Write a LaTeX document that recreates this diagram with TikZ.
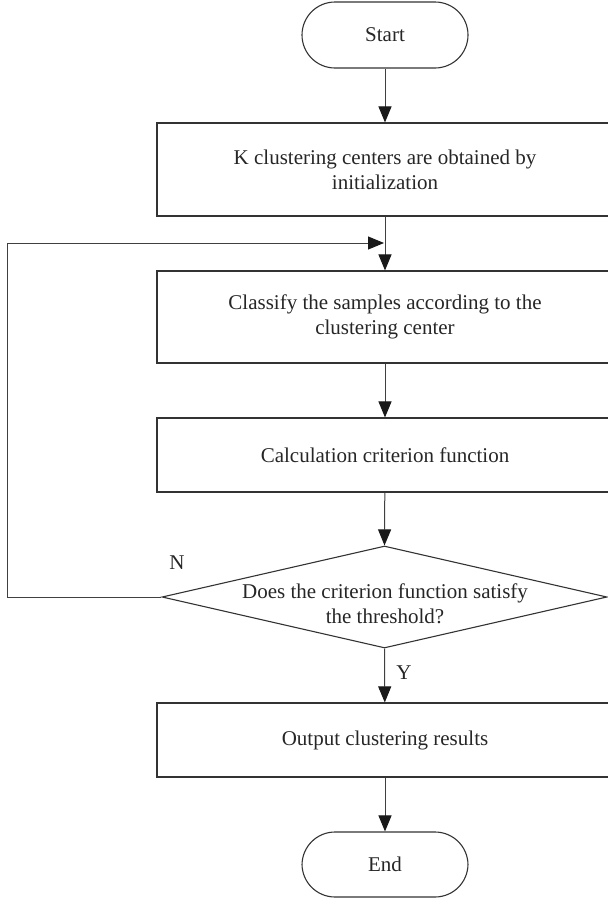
\documentclass[tikz,border=0pt]{standalone}
\usepackage{fontspec}
\setmainfont{Liberation Serif}
\usetikzlibrary{shapes.geometric,arrows.meta}

\begin{document}
\begin{tikzpicture}[x=1pt,y=-1pt,
    every node/.style={text=black!85, font=\fontsize{21}{25}\selectfont},
    box/.style={draw=black!80, line width=1.1pt, minimum width=456pt, align=center},
    pill/.style={draw=black!80, line width=1.1pt, rounded corners=33pt, minimum width=166pt, minimum height=66pt},
    arr/.style={draw=black!75, line width=1pt, -{Triangle[length=16pt,width=13pt,color=black!90]}}]
    \clip (0,0) rectangle (608,900);
    \useasboundingbox (0,0) rectangle (608,900);
    % nodes
    \node[pill] (start) at (385,35) {Start};
    \node[box, minimum height=93pt] (init) at (385,169.5) {K clustering centers are obtained by\\initialization};
    \node[box, minimum height=92pt] (classify) at (385,317) {Classify the samples according to the\\clustering center};
    \node[box, minimum height=74pt] (calc) at (385,455) {Calculation criterion function};
    \node[diamond, draw=black!80, line width=1.1pt, minimum width=445pt, minimum height=102pt, inner sep=0pt] (dec) at (384.5,597) {};
    \node[align=center] (dectext) at (385,604) {Does the criterion function satisfy\\the threshold?};
    \node[box, minimum height=74pt] (output) at (385,740) {Output clustering results};
    \node[pill, minimum height=65pt] (end) at (385,864.5) {End};
    \coordinate (join) at (385,243);
    \coordinate (far) at (7,597);
    % connectors
    \draw[arr] (start) -- (init);
    \draw[arr] (init) -- (classify);
    \draw[arr] (classify) -- (calc);
    \draw[arr] (calc) -- (dec.north);
    \draw[arr] (dec.south) -- (output);
    \draw[arr] (output) -- (end);
    \draw[arr] (dec.west) -- (far) |- ([xshift=-1pt]join);
    \node (nlabel) at (177,563) {N};
    \node (ylabel) at (404,673) {Y};
\end{tikzpicture}
\end{document}
